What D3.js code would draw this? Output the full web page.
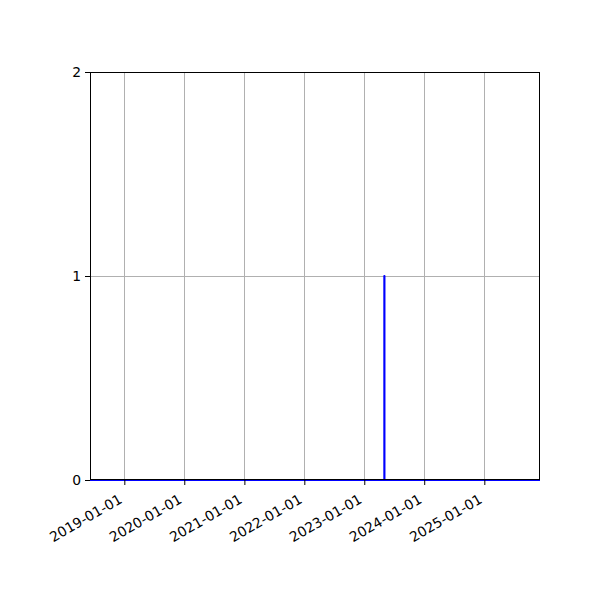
<!DOCTYPE html>
<html>
<head>
<meta charset="utf-8">
<script src="https://cdn.jsdelivr.net/npm/d3@7"></script>
<style>
  body { margin: 0; background: #fff; }
  text { font-family: "DejaVu Sans", sans-serif; }
</style>
</head>
<body>
<script>
// series: flat at zero with a single one-day spike
var dates = ["2018-06-06", "2023-05-03", "2023-05-03", "2023-05-04", "2023-05-04", "2025-12-06"]
var values = [0, 0, 1, 1, 0, 0]
var xDomain = ["2018-06-06", "2025-12-06"]
var xTickLabels = ["2019-01-01", "2020-01-01", "2021-01-01", "2022-01-01", "2023-01-01", "2024-01-01", "2025-01-01"]
var yTicks = [0, 1, 2]

var width = 600, height = 600
var mLeft = 90, mRight = 540, mTop = 72, mBottom = 480

var parse = d3.utcParse("%Y-%m-%d")

var x = d3.scaleUtc()
    .domain(xDomain.map(parse))
    .range([mLeft, mRight])

var y = d3.scaleLinear()
    .domain([0, 2])
    .range([mBottom, mTop])

var svg = d3.select("body").append("svg")
    .attr("width", width)
    .attr("height", height)

// grid
var grid = svg.append("g")
grid.selectAll("line.vx")
    .data(xTickLabels)
    .enter()
    .append("line")
    .attr("x1", (d) => {return Math.round(x(parse(d))) + 0.5})
    .attr("x2", (d) => {return Math.round(x(parse(d))) + 0.5})
    .attr("y1", mTop)
    .attr("y2", mBottom)
    .attr("stroke", "#b0b0b0")
    .attr("stroke-width", 1)
grid.selectAll("line.hy")
    .data(yTicks)
    .enter()
    .append("line")
    .attr("x1", mLeft)
    .attr("x2", mRight)
    .attr("y1", (d) => {return Math.round(y(d)) + 0.5})
    .attr("y2", (d) => {return Math.round(y(d)) + 0.5})
    .attr("stroke", "#b0b0b0")
    .attr("stroke-width", 1)

// data line
var points = dates.map((d, i) => {return {date: parse(d), value: values[i]}})
var line = d3.line()
    .x((d) => {return x(d.date)})
    .y((d) => {return y(d.value)})

svg.append("path")
    .datum(points)
    .attr("d", line)
    .attr("fill", "none")
    .attr("stroke", "#0000ff")
    .attr("stroke-width", 2)
    .attr("stroke-linejoin", "round")

// axes
var xAxis = d3.axisBottom(x)
    .tickValues(xTickLabels.map(parse))
    .tickFormat(d3.utcFormat("%Y-%m-%d"))
    .tickSize(5)
    .tickPadding(3)

var gx = svg.append("g")
    .attr("transform", "translate(0," + mBottom + ")")
    .call(xAxis)
gx.select(".domain").remove()
gx.selectAll(".tick line").attr("stroke", "#000").attr("stroke-width", 1)
gx.selectAll(".tick text")
    .attr("font-size", 13.9)
    .attr("fill", "#000")
    .attr("text-anchor", "end")
    .attr("x", 0)
    .attr("y", 0)
    .attr("dy", "0.75em")
    .attr("transform", "translate(-7,13) rotate(-30)")

var yAxis = d3.axisLeft(y)
    .tickValues(yTicks)
    .tickFormat(d3.format("d"))
    .tickSize(5)
    .tickPadding(4)

var gy = svg.append("g")
    .attr("transform", "translate(" + mLeft + ",0)")
    .call(yAxis)
gy.select(".domain").remove()
gy.selectAll(".tick line").attr("stroke", "#000").attr("stroke-width", 1)
gy.selectAll(".tick text").attr("font-size", 13.9).attr("fill", "#000")

// frame
svg.append("rect")
    .attr("x", mLeft + 0.5)
    .attr("y", mTop + 0.5)
    .attr("width", mRight - mLeft - 1)
    .attr("height", mBottom - mTop - 1)
    .attr("fill", "none")
    .attr("stroke", "#000")
    .attr("stroke-width", 1)
</script>
</body>
</html>
